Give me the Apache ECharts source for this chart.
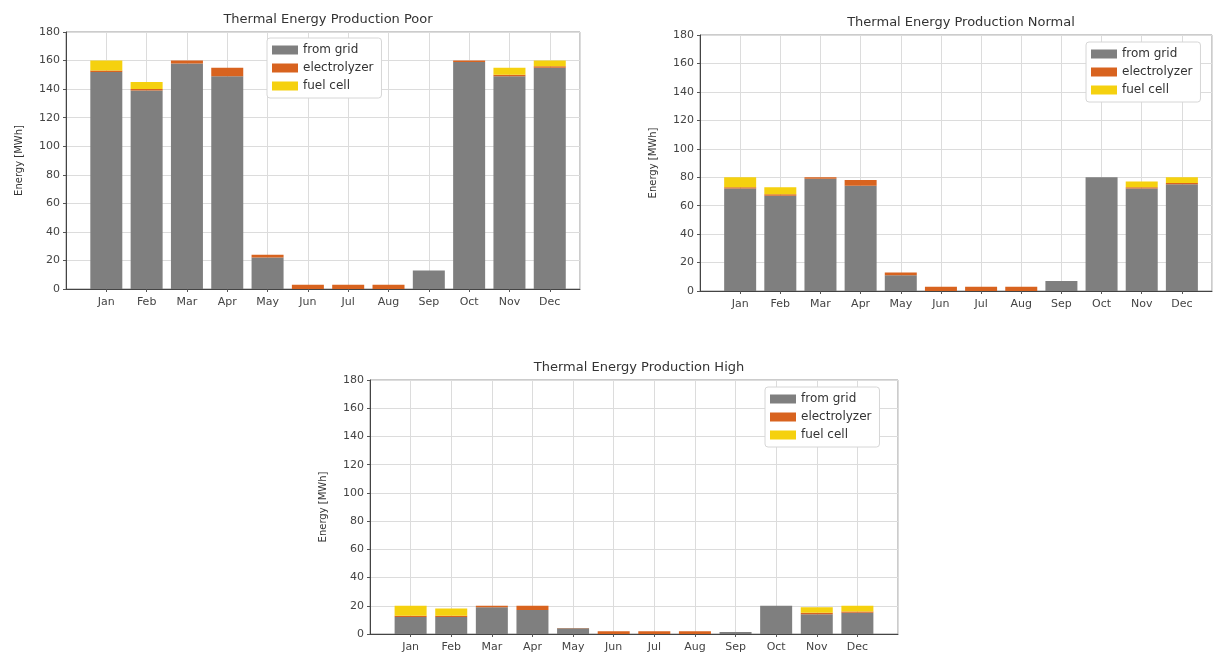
<!DOCTYPE html>
<html>
<head>
<meta charset="utf-8">
<script src="https://cdn.jsdelivr.net/npm/echarts@6/dist/echarts.min.js"></script>
<style>
  html, body { margin: 0; padding: 0; background: #fff; }
  #chart { width: 1218px; height: 658px; }
</style>
</head>
<body>
<div id="chart"></div>
<script>
// months on the x axis
var months = ['Jan', 'Feb', 'Mar', 'Apr', 'May', 'Jun', 'Jul', 'Aug', 'Sep', 'Oct', 'Nov', 'Dec'];
var seriesNames = ['from grid', 'electrolyzer', 'fuel cell'];
var yTicks = [0, 20, 40, 60, 80, 100, 120, 140, 160, 180];

// Poor
var poorGrid = [152, 139, 158, 149, 22, 0, 0, 0, 13, 159, 149, 155];
var poorElec = [1, 1, 2, 6, 2, 3, 3, 3, 0, 1, 1, 1];
var poorFuel = [7, 5, 0, 0, 0, 0, 0, 0, 0, 0, 5, 4];

// Normal
var normalGrid = [72, 67, 79, 74, 11, 0, 0, 0, 7, 80, 72, 75];
var normalElec = [1, 1, 1, 4, 2, 3, 3, 3, 0, 0, 1, 1];
var normalFuel = [7, 5, 0, 0, 0, 0, 0, 0, 0, 0, 4, 4];

// High
var highGrid = [12, 12, 19, 17, 4, 0, 0, 0, 1.5, 20, 14, 15];
var highElec = [1, 1, 1, 3, 0.3, 2, 2, 2, 0, 0, 1, 1];
var highFuel = [7, 5, 0, 0, 0, 0, 0, 0, 0, 0, 4, 4];

var colors = ['#7f7f7f', '#d8631f', '#f5d10f'];
var font = 'DejaVu Sans';

var panels = [
    { title: 'Thermal Energy Production Poor', left: 66, width: 514, top: 32, height: 257, xMax: 11.75,
      legendLeft: 267, legendTop: 38, data: [poorGrid, poorElec, poorFuel] },
    { title: 'Thermal Energy Production Normal', left: 700, width: 512, top: 35, height: 256, xMax: 11.75,
      legendLeft: 1086, legendTop: 42, data: [normalGrid, normalElec, normalFuel] },
    { title: 'Thermal Energy Production High', left: 370, width: 528, top: 380, height: 254, xMax: 12,
      legendLeft: 765, legendTop: 387, data: [highGrid, highElec, highFuel] }
];

// value first, month index second (encode maps them to y / x) so the stack runs on y
function toPoints(arr) {
    return arr.map(function (v, i) { return [v, i]; });
}

var option = {
    backgroundColor: '#fff',
    animation: false,
    title: [],
    legend: [],
    grid: [],
    xAxis: [],
    yAxis: [],
    series: []
};

panels.forEach(function (p, k) {
    option.title.push({
        text: p.title,
        left: p.left + p.width / 2,
        top: p.top - 24,
        textAlign: 'center',
        textStyle: { fontFamily: font, fontSize: 13, fontWeight: 'normal', color: '#333' }
    });
    option.legend.push({
        data: seriesNames,
        orient: 'vertical',
        left: p.legendLeft,
        top: p.legendTop,
        icon: 'rect',
        itemWidth: 26,
        itemHeight: 9,
        itemGap: 6,
        selectedMode: false,
        backgroundColor: '#fff',
        borderColor: '#d6d6d6',
        borderWidth: 1,
        borderRadius: 3,
        padding: [6, 8, 6, 5],
        textStyle: { fontFamily: font, fontSize: 12, color: '#333' }
    });
    option.grid.push({
        left: p.left, top: p.top, width: p.width, height: p.height,
        show: true, borderColor: '#999', borderWidth: 1, backgroundColor: '#fff'
    });
    option.xAxis.push({
        type: 'value', gridIndex: k, min: -1, max: p.xMax, interval: 1,
        axisLine: { show: true, onZero: false, lineStyle: { color: '#444' } },
        axisTick: { show: true, length: 3, lineStyle: { color: '#555' } },
        axisLabel: {
            fontFamily: font, fontSize: 11, color: '#444', margin: 8,
            showMinLabel: false, showMaxLabel: false,
            formatter: function (v) {
                return Number.isInteger(v) && months[v] ? months[v] : '';
            }
        },
        splitLine: { show: true, lineStyle: { color: '#dcdcdc' } }
    });
    option.yAxis.push({
        type: 'value', gridIndex: k, min: yTicks[0], max: yTicks[yTicks.length - 1], interval: 20,
        name: 'Energy [MWh]', nameLocation: 'middle', nameGap: 42,
        nameTextStyle: { fontFamily: font, fontSize: 10, color: '#333' },
        axisLine: { show: true, onZero: false, lineStyle: { color: '#444' } },
        axisTick: { show: true, length: 3, lineStyle: { color: '#555' } },
        axisLabel: { fontFamily: font, fontSize: 11, color: '#444', margin: 6 },
        splitLine: { show: true, lineStyle: { color: '#dcdcdc' } }
    });
    seriesNames.forEach(function (name, j) {
        option.series.push({
            name: name,
            type: 'bar',
            xAxisIndex: k,
            yAxisIndex: k,
            stack: 'panel' + k,
            barWidth: 32,
            encode: { x: 1, y: 0 },
            itemStyle: { color: colors[j] },
            data: toPoints(p.data[j])
        });
    });
});

var myChart = echarts.init(document.getElementById('chart'), null, { renderer: 'canvas' });
myChart.setOption(option);
</script>
</body>
</html>
